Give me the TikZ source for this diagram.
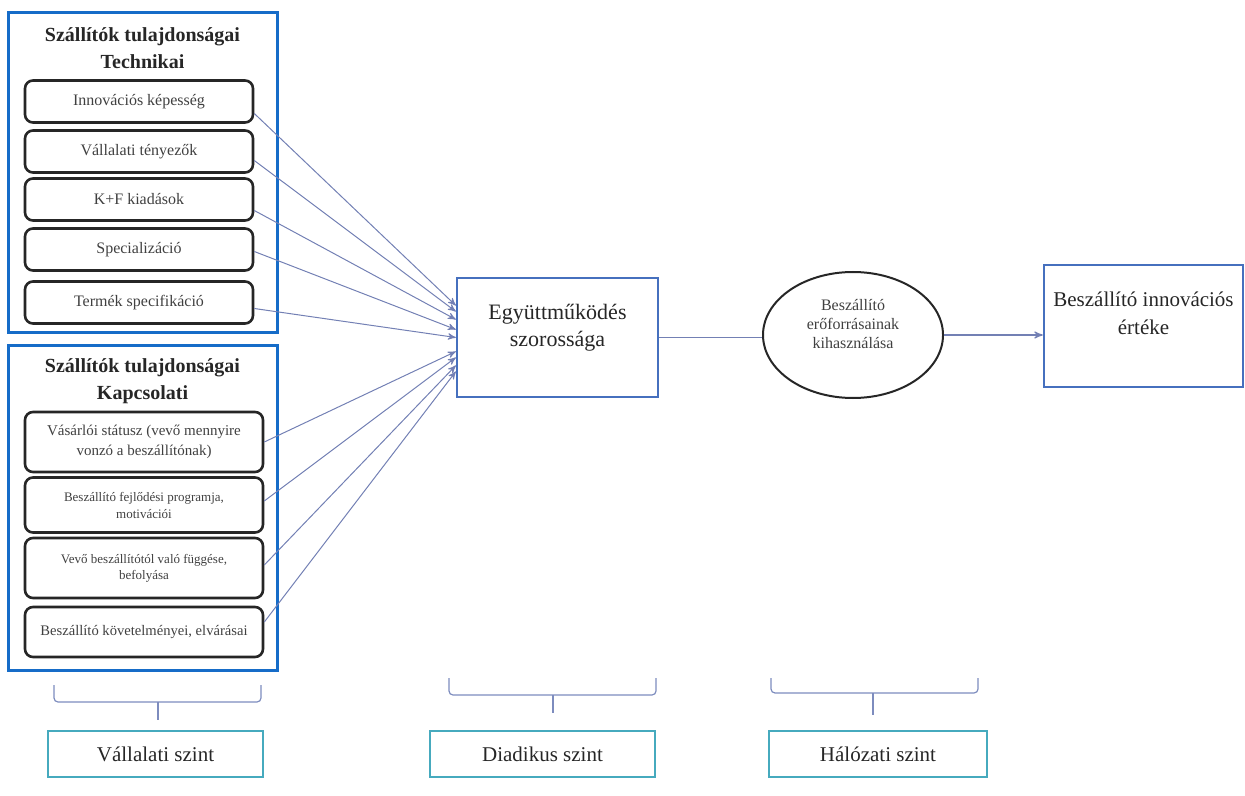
\documentclass[tikz,border=0pt]{standalone}
\usepackage{fontspec}
\setmainfont{Liberation Serif}
\usetikzlibrary{arrows}
\usetikzlibrary{shapes}
\usetikzlibrary{shapes.geometric}
\definecolor{frameblue}{RGB}{22,108,200}
\definecolor{mainblue}{RGB}{70,112,190}
\definecolor{levelteal}{RGB}{70,170,190}
\definecolor{linkblue}{RGB}{115,128,180}
\definecolor{braceblue}{RGB}{125,140,190}
\begin{document}
\begin{tikzpicture}[x=0.5pt,y=-0.5pt,>=stealth',node distance=25pt,
                    outer box/.style=  {draw=frameblue,line width=1.5pt,minimum width=134.5pt},
                    title/.style=      {font=\bfseries\fontsize{10}{13.5}\selectfont,align=center,text=black!85},
                    tech item/.style=  {draw=black!85,line width=1.3pt,rounded corners=4pt,minimum width=114pt,minimum height=21pt,
                                        font=\fontsize{8}{9.5}\selectfont,text=black!75},
                    rel item/.style=   {tech item,minimum width=119pt,minimum height=29pt,align=center,font=\fontsize{7.5}{10}\selectfont},
                    main box/.style=   {draw=mainblue,line width=1.2pt,minimum width=100.5pt,minimum height=59.5pt,align=center,
                                        font=\fontsize{11}{13.5}\selectfont,text=black!85},
                    level box/.style=  {draw=levelteal,line width=1.4pt,minimum height=23pt,font=\fontsize{10.5}{12}\selectfont,text=black!85},
                    link/.style=       {draw=linkblue,line width=0.5pt,->},
                    bracket/.style=    {draw=braceblue,line width=0.6pt,rounded corners=2pt}]
      \useasboundingbox (0,0) rectangle (1245,796);
      % technical properties
      \node[outer box, minimum height=159.5pt] (tech) at (142.5,172.5) {};
      \node[title] (techtitle) at (142.5,48.5) {Szállítók tulajdonságai\\Technikai};
      \node[tech item] (t1) at (139,101.5) {Innovációs képesség};
      \node[tech item, below of=t1] (t2) {Vállalati tényezők};
      \node[tech item, below of=t2, yshift=1pt] (t3) {K+F kiadások};
      \node[tech item, below of=t3] (t4) {Specializáció};
      \node[tech item, below of=t4, yshift=-1.5pt] (t5) {Termék specifikáció};
      % relational properties
      \node[outer box, minimum height=162.5pt] (rel) at (142.5,507.5) {};
      \node[title] (reltitle) at (142.5,381.5) {Szállítók tulajdonságai\\Kapcsolati};
      \node[rel item, minimum height=30pt] (r1) at (144,442) {Vásárlói státusz (vevő mennyire\\vonzó a beszállítónak)};
      \node[rel item, below of=r1, node distance=31.5pt, minimum height=27.5pt, font=\fontsize{6.5}{8.5}\selectfont] (r2) {Beszállító fejlődési programja,\\motivációi};
      \node[rel item, below of=r2, node distance=31.5pt, minimum height=30pt, font=\fontsize{6.5}{8}\selectfont] (r3) {Vevő beszállítótól való függése,\\befolyása};
      \node[rel item, below of=r3, node distance=32pt, minimum height=25pt, font=\fontsize{7.3}{9}\selectfont] (r4) {Beszállító követelményei, elvárásai};
      % chain
      \node[main box, text depth=12pt] (coop) at (557.5,337.5) {Együttműködés\\szorossága};
      \node[ellipse, draw=black!85, line width=1pt, minimum width=90pt, minimum height=63pt, inner sep=0pt, align=center,
            text depth=11pt, font=\fontsize{8}{9.5}\selectfont, text=black!75] (use) at (853,335) {Beszállító\\erőforrásainak\\kihasználása};
      \node[main box, minimum width=99.5pt, minimum height=61pt, text depth=13pt, font=\fontsize{10.5}{14}\selectfont] (value) at (1143.5,326) {Beszállító innovációs\\értéke};
      % levels
      \node[level box, minimum width=107.5pt] (firm) at (155.5,754) {Vállalati szint};
      \node[level box, minimum width=112.5pt] (dyad) at (542.5,754) {Diadikus szint};
      \node[level box, minimum width=109pt] (net) at (878,754) {Hálózati szint};
      % connectors
      \draw[link] ([yshift=-6pt]t1.east) -- ([yshift=16pt]coop.west);
      \draw[link] ([yshift=-4.5pt]t2.east) -- ([yshift=13pt]coop.west);
      \draw[link] ([yshift=-5.5pt]t3.east) -- ([yshift=9pt]coop.west);
      \draw[link] ([yshift=-1pt]t4.east) -- ([yshift=4pt]coop.west);
      \draw[link] ([yshift=-3pt]t5.east) -- ([yshift=0pt]coop.west);
      \draw[link] (r1.east) -- ([yshift=-7pt]coop.west);
      \draw[link] ([yshift=2pt]r2.east) -- ([yshift=-10pt]coop.west);
      \draw[link] ([yshift=1.5pt]r3.east) -- ([yshift=-14pt]coop.west);
      \draw[link] ([yshift=5pt]r4.east) -- ([yshift=-17pt]coop.west);
      \draw[draw=linkblue, line width=0.6pt] (coop.east) -- (coop.east -| use.west);
      \draw[link, line width=0.6pt] (use.east) -- (use.east -| value.west);
      % brackets
      \draw[bracket] (54,685) -- (54,702) -- (261,702) -- (261,685);
      \draw[bracket] (158,702) -- (158,720);
      \draw[bracket] (449,678) -- (449,695) -- (656,695) -- (656,678);
      \draw[bracket] (553,695) -- (553,713);
      \draw[bracket] (771,678) -- (771,693) -- (978,693) -- (978,678);
      \draw[bracket] (873,693) -- (873,715);
\end{tikzpicture}
\end{document}
